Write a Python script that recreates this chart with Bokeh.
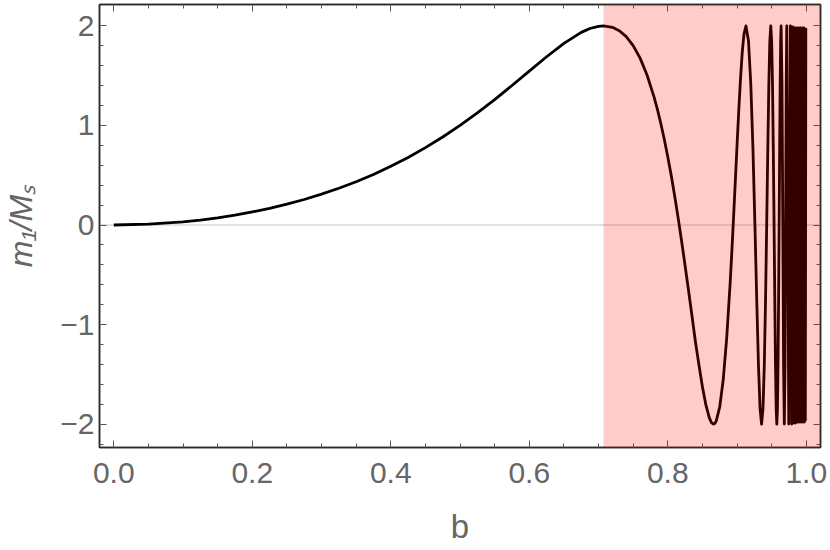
from bokeh.plotting import figure
from bokeh.models import (Range1d, LinearAxis, FixedTicker, Span, BoxAnnotation,
                          ColumnDataSource, CustomLabelingPolicy)
from bokeh.embed import file_html
from bokeh.resources import INLINE

# ---- data ----
b_vals = [
    0.0, 0.05, 0.1, 0.125, 0.15, 0.175, 0.2, 0.225, 0.25, 0.275, 0.3, 0.325,
    0.35, 0.375, 0.4, 0.425, 0.45, 0.475, 0.5, 0.525, 0.55, 0.575, 0.6,
    0.625, 0.65, 0.675, 0.6875, 0.7, 0.7071, 0.72, 0.73, 0.74, 0.75, 0.76, 0.77,
    0.78, 0.785, 0.79, 0.795, 0.8, 0.805, 0.81, 0.815, 0.82, 0.825, 0.83,
    0.835, 0.84, 0.845, 0.85, 0.855, 0.86, 0.863, 0.866, 0.868, 0.87, 0.875,
    0.88, 0.885, 0.89, 0.8925, 0.895, 0.8975, 0.9, 0.9025, 0.905, 0.9075, 0.91,
    0.912871, 0.916515, 0.919866, 0.922958, 0.925820, 0.928477, 0.930949,
    0.933256, 0.935414, 0.937437, 0.939336, 0.941124, 0.942809, 0.944400,
    0.945905, 0.947331, 0.948683, 0.949968, 0.951190, 0.952354, 0.953463,
    0.954521, 0.955533, 0.956501, 0.957427, 0.958315, 0.959166, 0.959984,
    0.960769, 0.961524, 0.962250, 0.962950, 0.963624, 0.964901, 0.966092,
    0.967204, 0.968246, 0.969223, 0.970143, 0.971008, 0.971825, 0.974679,
    0.977008, 0.978945, 0.980581, 0.981981, 0.983192, 0.984251, 0.985184,
    0.986013, 0.986757, 0.987421, 0.9881, 0.9888, 0.9895, 0.9902, 0.9909,
    0.9916, 0.9923, 0.9930, 0.9937, 0.9944, 0.9951, 0.9958, 0.9965, 0.9972,
    0.9979, 0.9986, 0.9993,
]
m_vals = [
    0.0, 0.008, 0.032, 0.050, 0.072, 0.099, 0.131, 0.167, 0.209, 0.256,
    0.310, 0.369, 0.435, 0.508, 0.590, 0.679, 0.777, 0.884, 1.0, 1.126,
    1.260, 1.401, 1.546, 1.690, 1.825, 1.935, 1.974, 1.996, 2.0, 1.986, 1.951, 1.892,
    1.802, 1.676, 1.507, 1.289, 1.162, 1.017, 0.859, 0.684, 0.496, 0.288,
    0.069, -0.165, -0.409, -0.660, -0.916, -1.178, -1.407, -1.625, -1.807,
    -1.937, -1.985, -2.0, -1.993, -1.968, -1.827, -1.557, -1.142, -0.588,
    -0.265, 0.081, 0.441, 0.803, 1.153, 1.470, 1.733, 1.919,
    2.0, 1.848, 1.414, 0.765, 0.0, -0.765, -1.414, -1.848, -2.0, -1.848,
    -1.414, -0.765, 0.0, 0.765, 1.414, 1.848, 2.0, 1.848, 1.414, 0.765, 0.0,
    -0.765, -1.414, -1.848, -2.0, -1.848, -1.414, -0.765, 0.0, 0.765, 1.414,
    1.848, 2.0, 1.414, 0.0, -1.414, -2.0, -1.414, 0.0, 1.414, 2.0, -2.0,
    2.0, -2.0, 1.99, -1.99, 1.98, -1.99, 1.98, -1.98, 1.97, -1.98, 1.98,
    -1.97, 1.96, -1.98, 1.98, -1.97, 1.98, -1.98, 1.97, -1.98, 1.98, -1.97,
    1.98, -1.98, 1.97, -1.96, 1.98,
]
shade_start = 0.7071

x_ticks = [0.0, 0.2, 0.4, 0.6, 0.8, 1.0]
x_tick_labels = ["0.0", "0.2", "0.4", "0.6", "0.8", "1.0"]
x_minor = [0.05, 0.1, 0.15, 0.25, 0.3, 0.35, 0.45, 0.5, 0.55, 0.65, 0.7,
           0.75, 0.85, 0.9, 0.95]
y_ticks = [-2, -1, 0, 1, 2]
y_tick_labels = ["\u22122", "\u22121", "0", "1", "2"]
y_minor = [-2.2, -1.8, -1.6, -1.4, -1.2, -0.8, -0.6, -0.4, -0.2, 0.2, 0.4,
           0.6, 0.8, 1.2, 1.4, 1.6, 1.8]

# ---- figure ----
FONT = "Liberation Sans"
GREY = "#666666"
FRAME = "#2a2a2a"
TICK = "#555555"

p = figure(width=830, height=550,
           x_range=Range1d(-0.0206, 1.0205), y_range=Range1d(-2.235, 2.215),
           output_backend="svg", toolbar_location=None,
           min_border_left=98, min_border_right=10,
           min_border_top=2, min_border_bottom=103)
p.grid.visible = False
p.outline_line_color = FRAME
p.outline_line_width = 1.5
p.background_fill_color = "white"
p.border_fill_color = "white"

src = ColumnDataSource(dict(b=b_vals, m=m_vals))

p.add_layout(Span(location=0, dimension="width", line_color="#c4c4c4",
                  line_width=1.2, level="underlay"))
p.line("b", "m", source=src, line_color="black", line_width=2.8,
       line_join="round")
p.add_layout(BoxAnnotation(left=shade_start, fill_color="red",
                           fill_alpha=0.2, line_color=None))

no_labels = CustomLabelingPolicy(code="for (const i of indices) indices.unset(i); return indices")


def style(ax, labels):
    ax.axis_line_color = FRAME
    ax.axis_line_width = 1.5
    ax.major_tick_line_color = TICK
    ax.minor_tick_line_color = TICK
    ax.major_tick_in = 7
    ax.major_tick_out = 0
    ax.minor_tick_in = 4
    ax.minor_tick_out = 0
    ax.major_label_text_font = FONT
    ax.major_label_text_color = GREY
    if labels:
        ax.major_label_text_font_size = "30px"
    else:
        ax.major_label_text_font_size = "1px"
        ax.major_label_standoff = 0
        ax.major_label_policy = no_labels


xt = FixedTicker(ticks=x_ticks, minor_ticks=x_minor)
yt = FixedTicker(ticks=y_ticks, minor_ticks=y_minor)

xa = p.xaxis[0]
xa.ticker = xt
xa.major_label_overrides = dict(zip(x_ticks, x_tick_labels))
style(xa, True)
xa.major_label_standoff = 15
xa.axis_label = "b"
xa.axis_label_text_font = FONT
xa.axis_label_text_font_style = "normal"
xa.axis_label_text_font_size = "33px"
xa.axis_label_text_color = GREY
xa.axis_label_standoff = 22

ya = p.yaxis[0]
ya.ticker = yt
ya.major_label_overrides = {float(k): v for k, v in zip(y_ticks, y_tick_labels)}
style(ya, True)
ya.major_label_standoff = 5
ya.axis_label = "m\u2081/M\u209b"
ya.axis_label_text_font = FONT
ya.axis_label_text_font_style = "italic"
ya.axis_label_text_font_size = "32px"
ya.axis_label_text_color = GREY
ya.axis_label_standoff = 18

top = LinearAxis(ticker=FixedTicker(ticks=x_ticks, minor_ticks=x_minor))
style(top, False)
p.add_layout(top, "above")
right = LinearAxis(ticker=FixedTicker(ticks=y_ticks, minor_ticks=y_minor))
style(right, False)
p.add_layout(right, "right")

open("out.html", "w").write(file_html(p, INLINE))
